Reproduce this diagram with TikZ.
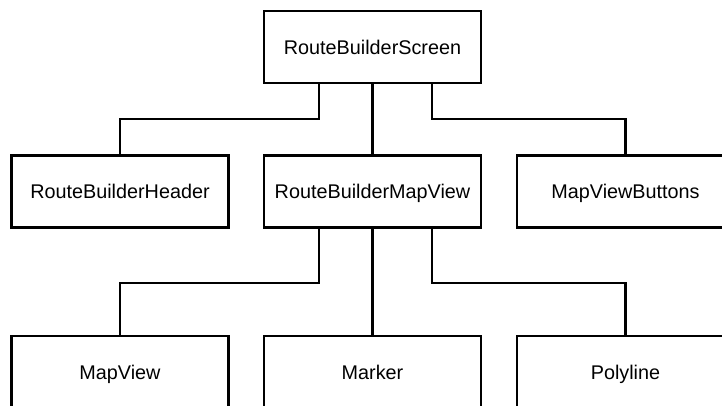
\documentclass[tikz,border=0pt]{standalone}
\usepackage{fontspec}
\setmainfont{Liberation Sans}
\begin{document}
\begin{tikzpicture}[x=1pt,y=-1pt,
  comp/.style={draw, line width=2.4pt, rectangle, minimum width=217pt, minimum height=72pt,
    inner sep=0pt, text height=14.2pt, text depth=0pt, font=\fontsize{19.8}{24}\selectfont},
  link/.style={draw, line width=2.2pt}]
  \useasboundingbox (0,0) rectangle (722,405);
  \clip (0,0) rectangle (722,405);
  % component tree
  \node[comp] (screen)  at (372.5,47)   {RouteBuilderScreen};
  \node[comp] (header)  at (120,191.5)  {RouteBuilderHeader};
  \node[comp] (mapview) at (372.5,191.5){RouteBuilderMapView};
  \node[comp] (buttons) at (625.5,191.5){MapViewButtons};
  \node[comp] (map)     at (120,372)    {MapView};
  \node[comp] (marker)  at (372.5,372)  {Marker};
  \node[comp] (poly)    at (625.5,372)  {Polyline};
  % connectors from the screen
  \draw[link] ([xshift=-53.5pt]screen.south) -- ++(0,35) -| (header.north);
  \draw[link] (screen.south) -- (mapview.north);
  \draw[link] ([xshift=59.5pt]screen.south) -- ++(0,35) -| (buttons.north);
  % connectors from the map view
  \draw[link] ([xshift=-53.5pt]mapview.south) -- ++(0,54.5) -| (map.north);
  \draw[link] (mapview.south) -- (marker.north);
  \draw[link] ([xshift=59.5pt]mapview.south) -- ++(0,54.5) -| (poly.north);
\end{tikzpicture}
\end{document}
